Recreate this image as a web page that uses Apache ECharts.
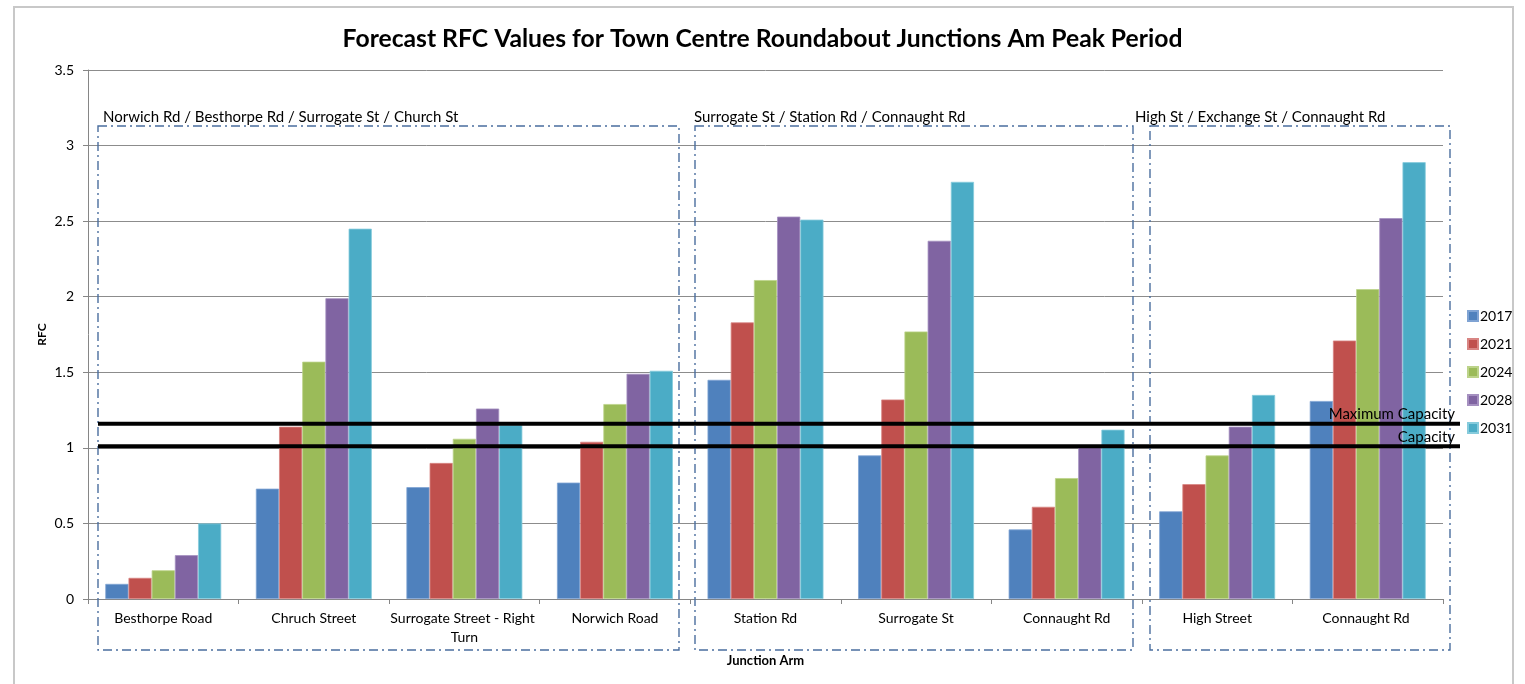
<!DOCTYPE html>
<html>
<head>
<meta charset="utf-8">
<script src="https://cdn.jsdelivr.net/npm/echarts@6/dist/echarts.min.js"></script>
<style>
  html, body { margin: 0; padding: 0; background: #fff; }
  #chart { width: 1525px; height: 684px; }
</style>
</head>
<body>
<div id="chart"></div>
<script>
// Junction arms along the category axis
const categories = [
  'Besthorpe Road', 'Chruch Street', 'Surrogate Street - Right Turn', 'Norwich Road',
  'Station Rd', 'Surrogate St', 'Connaught Rd',
  'High Street', 'Connaught Rd '
];

// Forecast years (one series each)
const years = ['2017', '2021', '2024', '2028', '2031'];

// RFC values per year, in category order
const rfc2017 = [0.10, 0.73, 0.74, 0.77, 1.45, 0.95, 0.46, 0.58, 1.31];
const rfc2021 = [0.14, 1.14, 0.90, 1.04, 1.83, 1.32, 0.61, 0.76, 1.71];
const rfc2024 = [0.19, 1.57, 1.06, 1.29, 2.11, 1.77, 0.80, 0.95, 2.05];
const rfc2028 = [0.29, 1.99, 1.26, 1.49, 2.53, 2.37, 1.01, 1.14, 2.52];
const rfc2031 = [0.50, 2.45, 1.15, 1.51, 2.51, 2.76, 1.12, 1.35, 2.89];

// Roundabout junction groupings
const groupNames = [
  'Norwich Rd / Besthorpe Rd / Surrogate St / Church St',
  'Surrogate St / Station Rd / Connaught Rd',
  'High St / Exchange St / Connaught Rd'
];

// Reference thresholds
const capacityNames = ['Maximum Capacity', 'Capacity'];
const capacityValues = [1.16, 1.01];

const colors = ['#4F81BD', '#C0504D', '#9BBB59', '#8064A2', '#4BACC6'];
const borders = ['#7fa3d3', '#d88583', '#bcd38a', '#a590c0', '#86cbdc'];
const seriesData = [rfc2017, rfc2021, rfc2024, rfc2028, rfc2031];
const FONT = 'Lato, "Liberation Sans", sans-serif';

const chart = echarts.init(document.getElementById('chart'), null, { renderer: 'canvas' });

const option = {
  backgroundColor: '#fff',
  animation: false,
  title: {
    text: 'Forecast RFC Values for Town Centre Roundabout Junctions Am Peak Period',
    left: 'center',
    top: 22,
    textStyle: { fontFamily: FONT, fontWeight: 'bold', fontSize: 24.7, color: '#000' }
  },
  legend: {
    data: years,
    orient: 'vertical',
    left: 1462,
    top: 304,
    itemWidth: 10,
    itemHeight: 10,
    itemGap: 14,
    icon: 'rect',
    textStyle: { fontFamily: FONT, fontSize: 14, color: '#000', lineHeight: 13, padding: [0, 0, 0, -3] }
  },
  grid: { left: 88, right: 82, top: 70, bottom: 85 },
  xAxis: {
    type: 'category',
    data: categories,
    name: 'Junction Arm',
    nameLocation: 'middle',
    nameGap: 55,
    nameMoveOverlap: false,
    nameTextStyle: { fontFamily: FONT, fontWeight: 'bold', fontSize: 13, color: '#000' },
    axisLine: { lineStyle: { color: '#868686', width: 1 } },
    axisTick: { show: true, length: 5, lineStyle: { color: '#868686' } },
    axisLabel: {
      interval: 0,
      fontFamily: FONT, fontSize: 14, color: '#000', margin: 10,
      width: 150, overflow: 'break', lineHeight: 19
    }
  },
  yAxis: {
    type: 'value',
    min: 0,
    max: 3.5,
    interval: 0.5,
    name: 'RFC',
    nameLocation: 'middle',
    nameGap: 40,
    nameMoveOverlap: false,
    nameTextStyle: { fontFamily: FONT, fontWeight: 'bold', fontSize: 12, color: '#000' },
    axisLine: { show: true, lineStyle: { color: '#868686', width: 1 } },
    axisTick: { show: true, length: 5, lineStyle: { color: '#868686' } },
    axisLabel: { fontFamily: FONT, fontSize: 14, color: '#000', margin: 14 },
    splitLine: { lineStyle: { color: '#8c8c8c', width: 1 } }
  },
  series: years.map((y, i) => ({
    name: y,
    type: 'bar',
    data: seriesData[i],
    barGap: '0%',
    barCategoryGap: '23%',
    itemStyle: { color: colors[i], borderColor: borders[i], borderWidth: 0.8 }
  }))
};

chart.setOption(option);

// Group boxes, group titles and capacity thresholds
function drawOverlays() {
  const boxes = [
    { x1: 98, x2: 679, tx: 103 },
    { x1: 695, x2: 1133, tx: 694 },
    { x1: 1150, x2: 1450, tx: 1135 }
  ];
  const boxTop = 126, boxBottom = 650;
  const dashStyle = { stroke: '#4a6e9e', lineWidth: 1.4, lineDash: [9, 4, 2, 4], fill: null };
  const elements = [];

  boxes.forEach((b, i) => {
    elements.push({
      type: 'rect',
      shape: { x: b.x1, y: boxTop, width: b.x2 - b.x1, height: boxBottom - boxTop },
      style: dashStyle,
      silent: true,
      z: 10
    });
    elements.push({
      type: 'text',
      x: b.tx,
      y: boxTop - 1,
      style: {
        text: groupNames[i], fill: '#000', fontFamily: FONT, fontSize: 15,
        textVerticalAlign: 'bottom', textAlign: 'left'
      },
      z: 11
    });
  });

  capacityValues.forEach((v, i) => {
    const py = chart.convertToPixel({ yAxisIndex: 0 }, v);
    elements.push({
      type: 'line',
      shape: { x1: 98, y1: py, x2: 1460, y2: py },
      style: { stroke: '#000', lineWidth: 4 },
      silent: true,
      z: 20
    });
    elements.push({
      type: 'text',
      x: 1455,
      y: py - 2,
      style: {
        text: capacityNames[i], fill: '#000', fontFamily: FONT, fontSize: 15,
        textAlign: 'right', textVerticalAlign: 'bottom'
      },
      z: 21
    });
  });

  // chart frame
  elements.push({
    type: 'rect',
    shape: { x: 14, y: 7, width: 1499, height: 690 },
    style: { stroke: '#c8c8c8', lineWidth: 2, fill: null },
    silent: true,
    z: 0
  });

  chart.setOption({ graphic: elements });
}

drawOverlays();
</script>
</body>
</html>
